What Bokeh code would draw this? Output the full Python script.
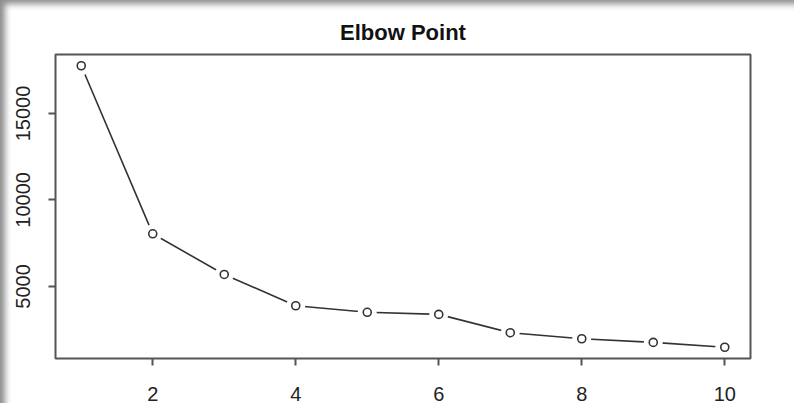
from bokeh.plotting import figure
from bokeh.models import Range1d, FixedTicker, Title
from bokeh.embed import file_html
from bokeh.resources import INLINE

# Within-cluster sum of squares for k = 1..10
k_values = [1, 2, 3, 4, 5, 6, 7, 8, 9, 10]
wss = [17760, 8040, 5690, 3880, 3500, 3380, 2320, 1970, 1760, 1480]
x_ticks = [2, 4, 6, 8, 10]
y_ticks = [5000, 10000, 15000]

FONT = "Liberation Sans"

# R-style 4% padding around the data range
x_pad = 0.04 * (max(k_values) - min(k_values))
y_pad = 0.04 * (max(wss) - min(wss))

p = figure(
    width=794, height=403,
    output_backend="svg", toolbar_location=None,
    x_range=Range1d(min(k_values) - x_pad, max(k_values) + x_pad),
    y_range=Range1d(min(wss) - y_pad, max(wss) + y_pad),
    min_border_left=55, min_border_right=44,
    min_border_top=54, min_border_bottom=45,
    border_fill_color=None, background_fill_color="white",
)
p.styles = {"box-shadow": "inset 9px 8px 6px -4px rgba(0,0,0,0.45)"}

p.title = Title(text="Elbow Point", align="center", text_font=FONT,
                text_font_size="22px", text_font_style="bold",
                text_color="#111111", standoff=20)

p.grid.visible = False
p.outline_line_color = "#555555"
p.outline_line_width = 2

for ax in (p.xaxis[0], p.yaxis[0]):
    ax.axis_line_color = None
    ax.major_tick_in = 0
    ax.major_tick_out = 7
    ax.major_tick_line_color = "#555555"
    ax.major_tick_line_width = 2
    ax.minor_tick_line_color = None
    ax.major_label_text_font = FONT
    ax.major_label_text_font_size = "20px"
    ax.major_label_text_color = "#222222"

p.xaxis[0].ticker = FixedTicker(ticks=x_ticks)
p.yaxis[0].ticker = FixedTicker(ticks=y_ticks)
p.xaxis[0].major_label_standoff = 21
p.xaxis[0].major_label_text_line_height = 0.7
p.yaxis[0].major_label_standoff = 18
p.yaxis[0].major_label_orientation = "vertical"

# connecting line, broken around each point by a white mask
p.line(k_values, wss, line_color="#333333", line_width=1.6)
p.scatter(k_values, wss, marker="circle", size=19, fill_color="white",
          line_color=None)
p.scatter(k_values, wss, marker="circle", size=8, fill_color="white",
          line_color="#333333", line_width=1.6)

open("out.html", "w").write(file_html(p, INLINE))
